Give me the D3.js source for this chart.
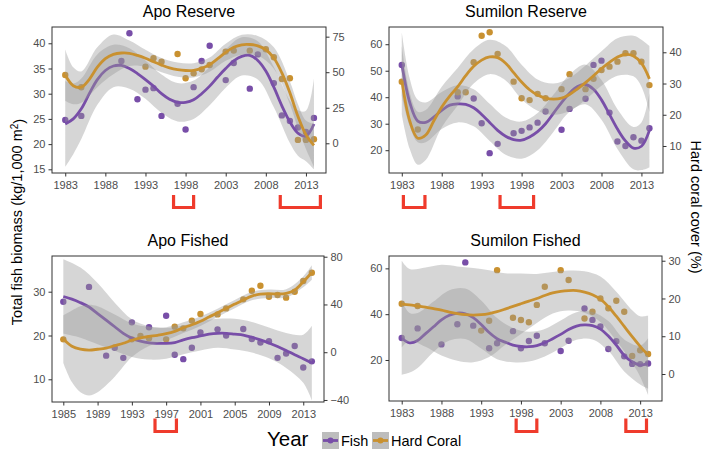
<!DOCTYPE html>
<html>
<head>
<meta charset="utf-8">
<script src="https://cdn.jsdelivr.net/npm/d3@7/dist/d3.min.js"></script>
<style>
body { margin: 0; background: #fff; }
text { font-family: "Liberation Sans", Arial, sans-serif; }
</style>
</head>
<body>
<svg id="chart" width="709" height="452"></svg>
<script>
// ---------- data ----------
// Apo Reserve
const apoResFishYear = [1983,1985,1990,1991,1992,1993,1994,1995,1997,1998,1999,2000,2001,2003,2004,2006,2007,2009,2010,2011,2012,2013,2014];
const apoResFish = [24.8,25.6,36.5,42,28.9,30.8,31.1,25.6,28,22.9,31.3,36.5,39.5,32.7,36.1,31,37.8,32.1,25.7,24.6,23.3,22.4,25.2];
const apoResCoralYear = [1983,1985,1993,1994,1995,1997,1998,1999,2000,2001,2003,2004,2006,2008,2009,2010,2011,2012,2013,2014];
const apoResCoral = [48,39.4,53.9,59.8,57.4,62.8,45.7,49.2,52,55.1,64.5,65.2,65.2,66.1,60.5,45.2,45.7,2.4,2.4,2.8];
const apoResSmoothYear = [1983,1984,1985,1986,1987,1988,1989,1990,1991,1992,1993,1994,1995,1996,1997,1998,1999,2000,2001,2002,2003,2004,2005,2006,2007,2008,2009,2010,2011,2012,2013,2014];
const apoResFishFit = [24,25,27,30,32.8,34.6,35.5,35.6,35,34,32.8,31.5,30,28.9,28.3,28.3,28.8,30,31.5,33.3,35,36.5,37.4,37.6,36.6,34.5,31.3,27.6,24.4,22.2,21.6,24];
const apoResCoralFit = [48,40.5,39.5,45,53.5,59.5,62.5,63.5,63.3,61.8,59.8,57.3,55,53,51.8,51.2,51.3,52.8,55.3,59.5,64,67.5,69.3,69.5,68.5,65.8,60,49.5,35.5,19,6,-1.5];
const apoResBandYear = [1983,1984,1985,1987,1989,1991,1993,1995,1997,1999,2001,2003,2005,2007,2009,2011,2012,2013,2014];
const apoResFishLo = [15.5,18,21,27.8,31.3,31,29,26.2,24.5,25,27.7,31.2,33.6,32.8,27.3,20.2,17.7,16.6,15];
const apoResFishHi = [32.5,32,33,37.8,39.7,39,36.6,33.8,32.1,32.6,35.3,38.8,41.2,40.4,35.3,28.6,26.7,26.6,33];
const apoResCoralLo = [30,27.5,28.5,39.5,48.5,54.3,53.8,50,46.8,46.3,50.3,58,62.3,61.5,52.5,27.5,10.5,-4,-16.5];
const apoResCoralHi = [66,53.5,50.5,67.5,76.5,72.3,65.8,60,56.8,56.3,60.3,70,76.3,75.5,67.5,43.5,27.5,16,13.5];
const apoResMarks = [[1996.5,1999],[2009.8,2014.8]];

// Sumilon Reserve
const sumResFishYear = [1983,1990,1992,1993,1994,1995,1997,1998,1999,2000,2001,2003,2004,2006,2007,2008,2009,2010,2011,2012,2013,2014];
const sumResFish = [52.2,40.3,39.5,30.2,18.9,22.4,26.4,27.3,28.6,30.4,34.6,27.7,35.6,39.4,52.2,53.8,34.2,23.3,21.6,24.9,23.6,28.3];
const sumResCoralYear = [1983,1985,1990,1991,1992,1993,1994,1995,1997,1998,1999,2000,2001,2003,2004,2006,2007,2008,2009,2010,2011,2012,2013,2014];
const sumResCoral = [30.6,15.3,27.2,27.2,36.8,45.3,46.4,39.5,30.6,25.3,24.7,26.7,25.3,28.2,33,28.2,31.5,34.3,35.4,37,39.7,39.7,37,29.5];
const sumResSmoothYear = apoResSmoothYear;
const sumResFishFit = [52.5,38,31,30.5,32.5,35,37,37.5,37.3,36,33.5,30.5,27.5,25.3,24,23.8,25,27,30,34,38,41.5,44,44.8,43,39,33.5,28,23.5,20.8,21.5,27.5];
const sumResCoralFit = [31,18,12.5,13.5,18,22.5,26,29,32.5,35.5,37.5,38.5,38.3,36.5,33.5,30.5,28,26.3,25.3,25,25.3,26.5,28.3,30.3,32.5,34.8,36.8,38.5,39.3,38.8,36.5,31.5];
const sumResBandYear = [1983,1984,1985,1986,1988,1990,1992,1994,1996,1998,2000,2002,2004,2006,2008,2010,2012,2013,2014];
const sumResFishLo = [40.5,29,23,23,28,30.5,29,23.5,18.3,16.8,20,27,34.5,37.3,31.5,20.5,12.8,12.5,13.5];
const sumResFishHi = [64.5,47,39,38,42,44.5,43,37.5,32.3,30.8,34,41,48.5,52.3,46.5,35.5,28.8,30.5,41.5];
const sumResCoralLo = [20,9,4,5.5,16,23,30,33,31,25,21.3,20,21.2,24.8,29.3,32.5,32.3,29,21];
const sumResCoralHi = [42,27,21,21.5,29,35,41,44,42,36,31.3,30,31.8,35.8,40.3,44.5,45.3,44,42];
const sumResMarks = [[1983.2,1985.9],[1995.3,1999.5]];

// Apo Fished
const apoFisFishYear = [1985,1988,1990,1991,1992,1993,1995,1997,1998,1999,2000,2001,2003,2004,2006,2007,2008,2009,2010,2011,2012,2013,2014];
const apoFisFish = [27.7,31.1,15.4,17.2,14.9,23,21.9,24.5,15.6,14.6,17.2,20.7,21.4,20,21.5,19.2,18.4,18.7,14.9,15.9,17.6,12.7,14.1];
const apoFisCoralYear = [1985,1993,1994,1995,1997,1998,1999,2000,2001,2003,2004,2006,2007,2008,2009,2010,2011,2012,2013,2014];
const apoFisCoral = [10.8,10.8,13.6,11.6,10.8,21.4,20,26.5,32,31.7,36.7,44.3,51.5,55.7,46.5,47.9,45.7,50.7,59.6,66.6];
const apoFisSmoothYear = [1985,1986,1987,1988,1989,1990,1991,1992,1993,1994,1995,1996,1997,1998,1999,2000,2001,2002,2003,2004,2005,2006,2007,2008,2009,2010,2011,2012,2013,2014];
const apoFisFishFit = [28.9,28.3,27.5,26.5,25,23.5,22,20.5,19.4,18.7,18.3,18.2,18.2,18.4,19,19.5,19.9,20.3,20.5,20.5,20.3,20.1,19.6,19,18.3,17.5,16.6,15.6,14.7,13.7];
const apoFisCoralFit = [11,5,2.5,1.8,2.5,3.5,5.5,7.5,10,12,13.2,14.2,15.5,17.5,20.5,23,26,29.5,33,36.7,40.3,43.8,47,48.7,49,48.8,49.3,52,59,66.8];
const apoFisFishBandYear = [1985,1987,1989,1991,1993,1995,1997,1999,2001,2003,2005,2007,2009,2011,2013,2014];
const apoFisFishLo = [20.4,19.5,18,16.5,15.1,14.5,14.7,15.7,16.6,17.2,16.8,16.1,14.8,12.6,9.2,5.2];
const apoFisFishHi = [37.4,35.5,32,27.5,23.7,22.1,21.7,22.3,23.2,23.8,23.8,23.1,21.8,20.6,20.2,22.2];
const apoFisCoralBandYear = [1985,1986,1987,1988,1989,1991,1993,1995,1997,1999,2001,2003,2005,2007,2009,2011,2013,2014];
const apoFisCoralLo = [-9,-25,-33.5,-36.2,-33.5,-20.5,-4,5.2,10,16,22,29.5,36.8,43.5,45.5,45.8,54.5,60.8];
const apoFisCoralHi = [31,35,38.5,39.8,38.5,31.5,24,21.2,21,25,30,36.5,43.8,50.5,52.5,52.8,63.5,72.8];
const apoFisMarks = [[1995.7,1998.2]];

// Sumilon Fished
const sumFisFishYear = [1983,1985,1988,1990,1991,1992,1994,1995,1997,1998,1999,2000,2001,2003,2004,2006,2007,2008,2009,2010,2011,2012,2013,2014];
const sumFisFish = [29.6,33.8,26.8,35.6,62.6,35,25.1,27.3,32.6,25.1,28.3,30.6,27.3,23.9,28.4,42.5,37.5,34.6,24.8,28.2,21.6,18.3,18.2,18.5];
const sumFisCoralYear = [1983,1985,1993,1994,1995,1997,1998,1999,2000,2001,2003,2004,2006,2007,2008,2009,2010,2011,2012,2013,2014];
const sumFisCoral = [18.6,18,11.5,14.1,27.5,14.9,14.3,13.7,18.3,23.1,27.5,24.9,14.7,16.5,20,17.4,19.4,16.5,4.8,6.3,5.3];
const sumFisSmoothYear = apoResSmoothYear;
const sumFisFishFit = [29.5,27.5,28.5,31.5,34.5,37.5,39.5,40.5,40.2,38.5,35.5,32,29.3,27.8,26.5,25.9,25.8,26.3,27.5,29.3,31.2,33.3,34.8,35.3,35,33.5,30.5,26.5,22,19.2,17.8,18.5];
const sumFisCoralFit = [18.5,18.3,18,17.7,17.3,16.9,16.4,16,15.7,15.6,15.7,16,16.5,17.2,17.9,18.6,19.3,20,20.8,21.5,21.9,22.1,22.1,21.7,21,19.8,17.8,15.3,12.6,9.9,7.3,5];
const sumFisFishBandYear = [1983,1984,1985,1987,1989,1991,1993,1995,1997,1999,2001,2003,2005,2007,2009,2011,2013,2014];
const sumFisFishLo = [13.5,14.5,16.5,23.5,28.5,29.2,25,20.3,19,19.3,21.5,25.2,28.8,29,24,15,9.3,7.5];
const sumFisFishHi = [45.5,40.5,40.5,45.5,50.5,51.2,46,38.3,34,32.3,33.5,37.2,40.8,41,37,29,26.3,29.5];
const sumFisCoralBandYear = [1983,1984,1986,1988,1990,1992,1994,1996,1998,2000,2002,2004,2006,2008,2010,2012,2013,2014];
const sumFisCoralLo = [7,8.8,7.2,4.9,3.5,3.1,4.5,7.7,10.6,13.5,16,16.8,16.2,13.8,8.8,2.9,-0.7,-5.5];
const sumFisCoralHi = [30,27.8,28.2,28.9,28.5,28.1,27.5,26.7,26.6,26.5,27,27.4,27.2,25.8,21.8,16.9,15.3,15.5];
const sumFisMarks = [[1997.4,2000],[2011.2,2013.8]];

// axis ticks
const yearTicksA = [1983,1988,1993,1998,2003,2008,2013];
const yearTicksB = [1985,1989,1993,1997,2001,2005,2009,2013];

// ---------- styling ----------
const purple = '#784ea8';
const gold = '#c99130';
const red = '#ef3b2c';

const zip = (xs, ys) => xs.map((v, i) => [v, ys[i]]);
const zip3 = (xs, lo, hi) => xs.map((v, i) => [v, lo[i], hi[i]]);

const panels = [
    {
        title: 'Apo Reserve', box: [52, 27, 326, 173],
        xDom: [1981.35, 2015.5], fishDom: [14.27, 43.23], coralDom: [-20.9, 81.8],
        xTicks: yearTicksA, fishTicks: [15,20,25,30,35,40], coralTicks: [0,25,50,75],
        fish: zip(apoResFishYear, apoResFish), coral: zip(apoResCoralYear, apoResCoral),
        fishFit: zip(apoResSmoothYear, apoResFishFit), coralFit: zip(apoResSmoothYear, apoResCoralFit),
        fishBand: zip3(apoResBandYear, apoResFishLo, apoResFishHi),
        coralBand: zip3(apoResBandYear, apoResCoralLo, apoResCoralHi),
        marks: apoResMarks, markY: [195, 207.5]
    },
    {
        title: 'Sumilon Reserve', box: [389, 27, 663, 173],
        xDom: [1981.4, 2015.7], fishDom: [11.4, 66.5], coralDom: [1.35, 48.1],
        xTicks: yearTicksA, fishTicks: [20,30,40,50,60], coralTicks: [10,20,30,40],
        fish: zip(sumResFishYear, sumResFish), coral: zip(sumResCoralYear, sumResCoral),
        fishFit: zip(sumResSmoothYear, sumResFishFit), coralFit: zip(sumResSmoothYear, sumResCoralFit),
        fishBand: zip3(sumResBandYear, sumResFishLo, sumResFishHi),
        coralBand: zip3(sumResBandYear, sumResCoralLo, sumResCoralHi),
        marks: sumResMarks, markY: [195, 207.5]
    },
    {
        title: 'Apo Fished', box: [52, 256, 324, 402],
        xDom: [1983.68, 2015.42], fishDom: [4.82, 38.15], coralDom: [-41.7, 80.6],
        xTicks: yearTicksB, fishTicks: [10,20,30], coralTicks: [-40,0,40,80],
        fish: zip(apoFisFishYear, apoFisFish), coral: zip(apoFisCoralYear, apoFisCoral),
        fishFit: zip(apoFisSmoothYear, apoFisFishFit), coralFit: zip(apoFisSmoothYear, apoFisCoralFit),
        fishBand: zip3(apoFisFishBandYear, apoFisFishLo, apoFisFishHi),
        coralBand: zip3(apoFisCoralBandYear, apoFisCoralLo, apoFisCoralHi),
        marks: apoFisMarks, markY: [418.5, 431.5]
    },
    {
        title: 'Sumilon Fished', box: [389, 256, 662, 401],
        xDom: [1981.4, 2015.75], fishDom: [2.1, 65.4], coralDom: [-7.15, 31.25],
        xTicks: yearTicksA, fishTicks: [20,40,60], coralTicks: [0,10,20,30],
        fish: zip(sumFisFishYear, sumFisFish), coral: zip(sumFisCoralYear, sumFisCoral),
        fishFit: zip(sumFisSmoothYear, sumFisFishFit), coralFit: zip(sumFisSmoothYear, sumFisCoralFit),
        fishBand: zip3(sumFisFishBandYear, sumFisFishLo, sumFisFishHi),
        coralBand: zip3(sumFisCoralBandYear, sumFisCoralLo, sumFisCoralHi),
        marks: sumFisMarks, markY: [418.5, 431.5]
    }
];

const svg = d3.select('#chart');

function styleAxis(sel) {
    sel.select('.domain').remove();
    sel.selectAll('line').attr('stroke', '#333').attr('stroke-width', 1);
    sel.selectAll('text').attr('fill', '#4d4d4d').style('font-size', '11px');
}

function drawPanel(p, i) {
    const [x0, y0, x1, y1] = p.box;
    const x = d3.scaleLinear().domain(p.xDom).range([x0, x1]);
    const yF = d3.scaleLinear().domain(p.fishDom).range([y1, y0]);
    const yC = d3.scaleLinear().domain(p.coralDom).range([y1, y0]);

    svg.append('clipPath').attr('id', 'clip' + i)
        .append('rect').attr('x', x0).attr('y', y0).attr('width', x1 - x0).attr('height', y1 - y0);
    const g = svg.append('g').attr('clip-path', `url(#clip${i})`);

    // points first, smooths on top (as in ggplot)
    g.selectAll('.fishpt').data(p.fish).enter().append('circle')
        .attr('cx', d => x(d[0])).attr('cy', d => yF(d[1])).attr('r', 3.2)
        .attr('fill', purple);
    g.selectAll('.coralpt').data(p.coral).enter().append('circle')
        .attr('cx', d => x(d[0])).attr('cy', d => yC(d[1])).attr('r', 3.2)
        .attr('fill', gold);

    const layers = [
        { band: p.fishBand, fit: p.fishFit, y: yF, color: purple },
        { band: p.coralBand, fit: p.coralFit, y: yC, color: gold }
    ];
    layers.forEach(l => {
        const area = d3.area().curve(d3.curveCatmullRom.alpha(0.5))
            .x(d => x(d[0])).y0(d => l.y(d[1])).y1(d => l.y(d[2]));
        g.append('path').datum(l.band).attr('d', area)
            .attr('fill', '#999999').attr('fill-opacity', 0.4);
        const line = d3.line().curve(d3.curveCatmullRom.alpha(0.5))
            .x(d => x(d[0])).y(d => l.y(d[1]));
        g.append('path').datum(l.fit).attr('d', line)
            .attr('fill', 'none').attr('stroke', l.color).attr('stroke-width', 2.8);
    });

    // panel border
    svg.append('rect').attr('x', x0).attr('y', y0).attr('width', x1 - x0).attr('height', y1 - y0)
        .attr('fill', 'none').attr('stroke', '#333').attr('stroke-width', 1);

    svg.append('g').attr('transform', `translate(0,${y1})`)
        .call(d3.axisBottom(x).tickValues(p.xTicks).tickFormat(d3.format('d')).tickSize(3.5).tickPadding(5))
        .call(styleAxis);
    svg.append('g').attr('transform', `translate(${x0},0)`)
        .call(d3.axisLeft(yF).tickValues(p.fishTicks).tickSize(3.5).tickPadding(3))
        .call(styleAxis);
    svg.append('g').attr('transform', `translate(${x1},0)`)
        .call(d3.axisRight(yC).tickValues(p.coralTicks).tickSize(3.5).tickPadding(3))
        .call(styleAxis);

    svg.append('text').attr('x', (x0 + x1) / 2).attr('y', y0 - 10)
        .attr('text-anchor', 'middle').style('font-size', '16px').attr('fill', '#000')
        .text(p.title);

    // red period brackets under the axis
    const [mt, mb] = p.markY;
    p.marks.forEach(m => {
        const path = d3.path();
        path.moveTo(x(m[0]), mt);
        path.lineTo(x(m[0]), mb);
        path.lineTo(x(m[1]), mb);
        path.lineTo(x(m[1]), mt);
        svg.append('path').attr('d', path.toString())
            .attr('fill', 'none').attr('stroke', red).attr('stroke-width', 3.2);
    });
}

panels.forEach(drawPanel);

// axis titles
const leftTitle = svg.append('text').attr('transform', 'translate(22,222) rotate(-90)')
    .attr('text-anchor', 'middle').style('font-size', '14.5px').attr('fill', '#000');
leftTitle.append('tspan').text('Total fish biomass (kg/1,000 m');
leftTitle.append('tspan').attr('dy', '-0.45em').style('font-size', '10px').text('2');
leftTitle.append('tspan').attr('dy', '0.45em').text(')');

svg.append('text').attr('transform', 'translate(691,207) rotate(90)')
    .attr('text-anchor', 'middle').style('font-size', '14.5px').attr('fill', '#000')
    .text('Hard coral cover (%)');

// legend
svg.append('text').attr('x', 267).attr('y', 446).style('font-size', '20.5px').attr('fill', '#000').text('Year');
const legendItems = [['Fish', purple, 322], ['Hard Coral', gold, 372]];
legendItems.forEach(([label, color, lx]) => {
    const lg = svg.append('g').attr('transform', `translate(${lx},432)`);
    lg.append('rect').attr('width', 17).attr('height', 17).attr('fill', '#bdbdbd');
    lg.append('line').attr('x1', 1).attr('x2', 16).attr('y1', 8.5).attr('y2', 8.5)
        .attr('stroke', color).attr('stroke-width', 2.8);
    lg.append('circle').attr('cx', 8.5).attr('cy', 8.5).attr('r', 3).attr('fill', color);
    lg.append('text').attr('x', 19).attr('y', 14).style('font-size', '14.5px').attr('fill', '#000').text(label);
});
</script>
</body>
</html>
